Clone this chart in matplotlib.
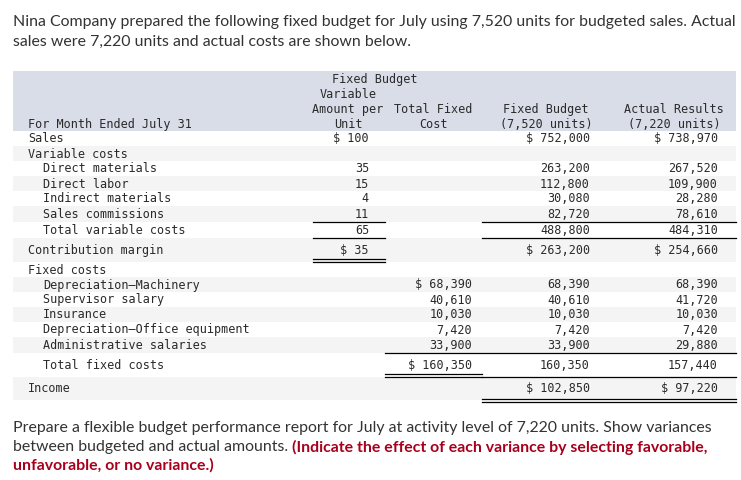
import matplotlib.pyplot as plt
from matplotlib.patches import Rectangle

# table data
labels = ["Sales", "Variable costs", "Direct materials", "Direct labor",
          "Indirect materials", "Sales commissions", "Total variable costs",
          "Contribution margin", "Fixed costs", "Depreciation\u2014Machinery",
          "Supervisor salary", "Insurance", "Depreciation\u2014Office equipment",
          "Administrative salaries", "Total fixed costs", "Income"]
indent = [0, 0, 1, 1, 1, 1, 1, 0, 0, 1, 1, 1, 1, 1, 1, 0]
unit_amt = [100, None, 35, 15, 4, 11, 65, 35, None,
            None, None, None, None, None, None, None]
fixed_total = [None, None, None, None, None, None, None, None, None,
               68390, 40610, 10030, 7420, 33900, 160350, None]
budget = [752000, None, 263200, 112800, 30080, 82720, 488800, 263200, None,
          68390, 40610, 10030, 7420, 33900, 160350, 102850]
actual = [738970, None, 267520, 109900, 28280, 78610, 484310, 254660, None,
          68390, 41720, 10030, 7420, 29880, 157440, 97220]
dollar_unit = [1, 0, 0, 0, 0, 0, 0, 1, 0, 0, 0, 0, 0, 0, 0, 0]
dollar_fixed = [0, 0, 0, 0, 0, 0, 0, 0, 0, 1, 0, 0, 0, 0, 1, 0]
dollar_main = [1, 0, 0, 0, 0, 0, 0, 1, 0, 0, 0, 0, 0, 0, 0, 1]

intro = ("Nina Company prepared the following fixed budget for July using 7,520 units for budgeted sales. Actual",
         "sales were 7,220 units and actual costs are shown below.")
task = ("Prepare a flexible budget performance report for July at activity level of 7,220 units. Show variances",
        "between budgeted and actual amounts. ")
task_red = ("(Indicate the effect of each variance by selecting favorable,",
            "unfavorable, or no variance.)")

# layout in pixels
row_top = [131, 146, 161, 176, 191, 206, 222, 238, 262, 277, 292, 307, 322, 337, 353, 377, 400]
shaded = [0, 1, 0, 1, 0, 1, 0, 1, 0, 1, 0, 1, 0, 1, 0, 1]
col_right = [369, 472, 590, 718]
left, right = 13, 736
mono = "DejaVu Sans Mono"
msize = 8.5
tcol = "#2a2a2a"
psize = 11.4


def fmt(v, d):
    if v is None:
        return ""
    s = f"{v:,}"
    return "$ " + s if d else s


fig = plt.figure(figsize=(7.41, 4.80), dpi=100)
ax = fig.add_axes([0, 0, 1, 1])
ax.set_xlim(0, 741)
ax.set_ylim(480, 0)
ax.axis("off")

# intro paragraph
for i, line in enumerate(intro):
    ax.text(13, 22 + i * 20, line, fontsize=psize, family="Lato", color="#333333", va="center")

# header band
ax.add_patch(Rectangle((left, 71), right - left, 60, color="#d9dde8", lw=0))
hdr = dict(family=mono, fontsize=msize, color=tcol, va="center", ha="center")
ax.text(375, 79.5, "Fixed Budget", **hdr)
ax.text(348, 94.5, "Variable", **hdr)
ax.text(348, 109.5, "Amount per", **hdr)
ax.text(348, 124.5, "Unit", **hdr)
ax.text(433, 109.5, "Total Fixed", **hdr)
ax.text(433, 124.5, "Cost", **hdr)
ax.text(546, 109.5, "Fixed Budget", **hdr)
ax.text(546, 124.5, "(7,520 units)", **hdr)
ax.text(674, 109.5, "Actual Results", **hdr)
ax.text(674, 124.5, "(7,220 units)", **hdr)
ax.text(28, 124.5, "For Month Ended July 31", family=mono, fontsize=msize, color=tcol, va="center")

# rows
for i, lab in enumerate(labels):
    top, bot = row_top[i], row_top[i + 1]
    yc = (top + bot) / 2 + 0.5
    if shaded[i]:
        ax.add_patch(Rectangle((left, top), right - left, bot - top, color="#f4f4f4", lw=0))
    ax.text(28 + 15 * indent[i], yc, lab, family=mono, fontsize=msize, color=tcol, va="center")
    vals = [fmt(unit_amt[i], dollar_unit[i]), fmt(fixed_total[i], dollar_fixed[i]),
            fmt(budget[i], dollar_main[i]), fmt(actual[i], dollar_main[i])]
    for x, s in zip(col_right, vals):
        ax.text(x, yc, s, family=mono, fontsize=msize, color=tcol, va="center", ha="right")

# rule lines
lw = 0.9
for y in (221.5, 237.5):
    ax.plot([313, 385], [y, y], color="black", lw=lw)
    ax.plot([482, right], [y, y], color="black", lw=lw)
for y in (259, 262):
    ax.plot([313, 385], [y, y], color="black", lw=lw)
ax.plot([385, right], [352.5, 352.5], color="black", lw=lw)
for y in (373.5, 376.5):
    ax.plot([385, 482], [y, y], color="black", lw=lw)
ax.plot([482, right], [376.5, 376.5], color="black", lw=lw)
for y in (398.5, 401.5):
    ax.plot([482, right], [y, y], color="black", lw=lw)

# task paragraph
ys = [428, 447, 465]
ax.text(13, ys[0], task[0], fontsize=psize, family="Lato", color="#333333", va="center")
t2 = ax.text(13, ys[1], task[1], fontsize=psize, family="Lato", color="#333333", va="center")
ax.annotate(task_red[0], xy=(1, 0.5), xycoords=t2, va="center", fontsize=psize,
            family="Lato", weight="bold", color="#a8001c")
ax.text(13, ys[2], task_red[1], fontsize=psize, family="Lato", weight="bold",
        color="#a8001c", va="center")

fig.savefig("out.png", dpi=100)
